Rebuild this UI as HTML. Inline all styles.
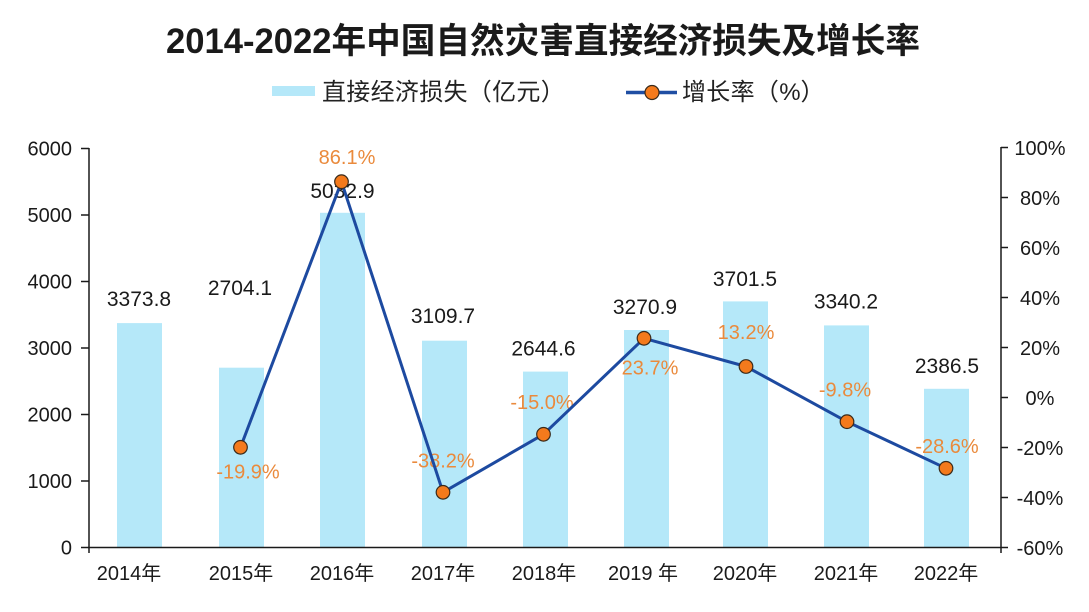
<!DOCTYPE html>
<html>
<head>
<meta charset="utf-8">
<style>
  html, body { margin: 0; padding: 0; background: #ffffff; }
  svg { display: block; }
  text { font-family: "Liberation Sans", "Noto Sans CJK SC", sans-serif; }
</style>
</head>
<body>
<svg width="1089" height="612" viewBox="0 0 1089 612" xmlns="http://www.w3.org/2000/svg">
  <rect x="0" y="0" width="1089" height="612" fill="#ffffff"/>

  <!-- Title -->
  <text x="543" y="53" text-anchor="middle" font-size="35" font-weight="bold" fill="#1a1a1a" textLength="754" lengthAdjust="spacingAndGlyphs">2014-2022年中国自然灾害直接经济损失及增长率</text>

  <!-- Legend -->
  <rect x="272" y="86" width="43" height="10" fill="#b5e8f9"/>
  <text x="322 346.3 370.6 394.9 419.2 443.5 467.8 492.1 516.4 540.7" y="100" font-size="24" fill="#222">直接经济损失（亿元）</text>
  <line x1="626" y1="92.5" x2="677" y2="92.5" stroke="#1f4ea3" stroke-width="3.5"/>
  <circle cx="652" cy="92.5" r="7" fill="#f47a1c" stroke="#3a2a1a" stroke-width="1.2"/>
  <text x="682 706.3 730.6 754.9 779.2 800.5" y="100" font-size="24" fill="#222">增长率（%）</text>

  <!-- Bars -->
  <g fill="#b5e8f9">
    <rect x="117" y="323.1" width="45" height="224.4"/>
    <rect x="219" y="367.7" width="45" height="179.8"/>
    <rect x="320" y="212.8" width="45" height="334.7"/>
    <rect x="422" y="340.7" width="45" height="206.8"/>
    <rect x="523" y="371.6" width="45" height="175.9"/>
    <rect x="624" y="330.0" width="45" height="217.5"/>
    <rect x="723" y="301.4" width="45" height="246.1"/>
    <rect x="824" y="325.4" width="45" height="222.1"/>
    <rect x="924" y="388.8" width="45" height="158.7"/>
  </g>

  <!-- Axes -->
  <g stroke="#1a1a1a" stroke-width="1.5" fill="none">
    <line x1="89" y1="148" x2="89" y2="553"/>
    <line x1="88" y1="547.5" x2="1001" y2="547.5"/>
    <line x1="1001" y1="147" x2="1001" y2="553"/>
    <!-- left ticks -->
    <line x1="81" y1="148.5" x2="89" y2="148.5"/>
    <line x1="81" y1="215" x2="89" y2="215"/>
    <line x1="81" y1="281.5" x2="89" y2="281.5"/>
    <line x1="81" y1="348" x2="89" y2="348"/>
    <line x1="81" y1="414.5" x2="89" y2="414.5"/>
    <line x1="81" y1="481" x2="89" y2="481"/>
    <line x1="81" y1="547.5" x2="89" y2="547.5"/>
    <!-- right ticks -->
    <line x1="1001" y1="147.5" x2="1008" y2="147.5"/>
    <line x1="1001" y1="197.5" x2="1008" y2="197.5"/>
    <line x1="1001" y1="247.5" x2="1008" y2="247.5"/>
    <line x1="1001" y1="297.5" x2="1008" y2="297.5"/>
    <line x1="1001" y1="347.5" x2="1008" y2="347.5"/>
    <line x1="1001" y1="397.5" x2="1008" y2="397.5"/>
    <line x1="1001" y1="447.5" x2="1008" y2="447.5"/>
    <line x1="1001" y1="497.5" x2="1008" y2="497.5"/>
    <line x1="1001" y1="547.5" x2="1008" y2="547.5"/>
  </g>

  <!-- Left axis labels -->
  <g font-size="20" fill="#1a1a1a" text-anchor="end">
    <text x="72" y="155.5">6000</text>
    <text x="72" y="222">5000</text>
    <text x="72" y="288.5">4000</text>
    <text x="72" y="355">3000</text>
    <text x="72" y="421.5">2000</text>
    <text x="72" y="488">1000</text>
    <text x="72" y="554.5">0</text>
  </g>

  <!-- Right axis labels -->
  <g font-size="20" fill="#1a1a1a" text-anchor="middle">
    <text x="1040" y="155">100%</text>
    <text x="1040" y="205">80%</text>
    <text x="1040" y="255">60%</text>
    <text x="1040" y="305">40%</text>
    <text x="1040" y="355">20%</text>
    <text x="1040" y="405">0%</text>
    <text x="1040" y="455">-20%</text>
    <text x="1040" y="505">-40%</text>
    <text x="1040" y="555">-60%</text>
  </g>

  <!-- Category labels -->
  <g font-size="20" fill="#1a1a1a" text-anchor="middle">
    <text x="129" y="580">2014年</text>
    <text x="241" y="580">2015年</text>
    <text x="342" y="580">2016年</text>
    <text x="443" y="580">2017年</text>
    <text x="544" y="580">2018年</text>
    <text x="643" y="580">2019 年</text>
    <text x="745" y="580">2020年</text>
    <text x="846" y="580">2021年</text>
    <text x="946" y="580">2022年</text>
  </g>

  <!-- Value labels -->
  <g font-size="21" fill="#1a1a1a" text-anchor="middle">
    <text x="139" y="306">3373.8</text>
    <text x="240" y="295">2704.1</text>
    <text x="342.5" y="198">5032.9</text>
    <text x="443" y="323">3109.7</text>
    <text x="543.5" y="355.5">2644.6</text>
    <text x="645" y="314">3270.9</text>
    <text x="745" y="286">3701.5</text>
    <text x="846" y="308.5">3340.2</text>
    <text x="947" y="373">2386.5</text>
  </g>

  <!-- Growth labels -->
  <g font-size="20" fill="#ea8a3c" text-anchor="middle">
    <text x="248" y="478.5">-19.9%</text>
    <text x="347" y="164">86.1%</text>
    <text x="443" y="467.5">-38.2%</text>
    <text x="542" y="409">-15.0%</text>
    <text x="650" y="374.5">23.7%</text>
    <text x="746" y="339">13.2%</text>
    <text x="845" y="396.5">-9.8%</text>
    <text x="947" y="453">-28.6%</text>
  </g>

  <!-- Growth line -->
  <polyline fill="none" stroke="#1d4aa0" stroke-width="3" stroke-linejoin="round"
    points="240.5,447.3 341.5,181.7 443,492.3 543.5,434.3 644,338.3 746,366.5 847,421.7 946,468.3"/>
  <g fill="#f47a1c" stroke="#3a2a1a" stroke-width="1.2">
    <circle cx="240.5" cy="447.3" r="6.8"/>
    <circle cx="341.5" cy="181.7" r="6.8"/>
    <circle cx="443" cy="492.3" r="6.8"/>
    <circle cx="543.5" cy="434.3" r="6.8"/>
    <circle cx="644" cy="338.3" r="6.8"/>
    <circle cx="746" cy="366.5" r="6.8"/>
    <circle cx="847" cy="421.7" r="6.8"/>
    <circle cx="946" cy="468.3" r="6.8"/>
  </g>
</svg>
</body>
</html>
